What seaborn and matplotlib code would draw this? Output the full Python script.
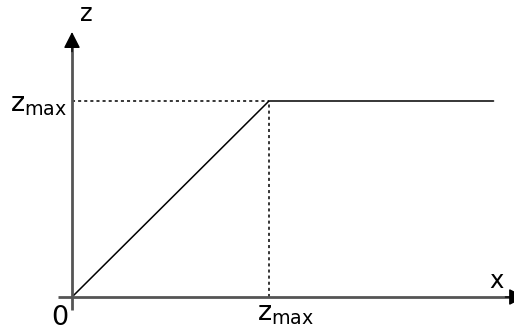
import matplotlib
matplotlib.use("Agg")
import matplotlib.pyplot as plt
import seaborn as sns
import pandas as pd

# data (units of z_max)
zmax = 1.0
x_pts = [0.0, zmax, 2.14]
z_pts = [0.0, zmax, zmax]
x_label = "x"
z_label = "z"
zmax_label = "$z_{max}$"
origin_label = "0"

sns.set_theme(style="white")
plt.rcParams['font.family'] = ['DejaVu Sans']
plt.rcParams['mathtext.default'] = 'regular'
plt.rcParams['text.color'] = 'black'

W, H = 514, 334
fig = plt.figure(figsize=(W / 100, H / 100), dpi=100)
ax = fig.add_axes([0, 0, 1, 1])
ux = 197.0   # px per unit (x)
uy = 196.0   # px per unit (y)
ox, oy = 72, 297  # origin in px
ax.set_xlim(-ox / ux, (W - ox) / ux)
ax.set_ylim(-(H - oy) / uy, oy / uy)
ax.axis("off")

df = pd.DataFrame({"x": x_pts, "z": z_pts})
sns.lineplot(data=df, x="x", y="z", ax=ax, color="black", lw=1.1, sort=False)

# dotted guides
ax.plot([0, zmax], [zmax, zmax], color="black", lw=1.1, ls=(0, (2, 2)))
ax.plot([zmax, zmax], [0, zmax], color="black", lw=1.1, ls=(0, (2, 2)))

axis_col = "#555555"
ytop = 1.352
xend = 2.30
ax.plot([0, 0], [-0.066, ytop - 0.05], color=axis_col, lw=2, solid_capstyle="butt")
ax.plot([-0.071, xend - 0.05], [0, 0], color=axis_col, lw=2, solid_capstyle="butt")
ap = dict(arrowstyle="-|>,head_length=0.55,head_width=0.28", color="black", lw=1,
          mutation_scale=18, shrinkA=0, shrinkB=0)
ax.annotate("", xy=(0, ytop), xytext=(0, ytop - 0.1), arrowprops=ap,
            annotation_clip=False)
ax.annotate("", xy=(xend, 0), xytext=(xend - 0.1, 0), arrowprops=ap,
            annotation_clip=False)

ax.text(0.071, 1.444, z_label, fontsize=17.5, ha="center", va="center", color="black")
ax.text(2.157, 0.082, x_label, fontsize=17.5, ha="center", va="center", color="black")
ax.text(-0.02, -0.04, origin_label, fontsize=19.5, ha="right", va="top", color="black")
ax.text(-0.025, zmax - 0.02, zmax_label, fontsize=19.5, ha="right", va="center", color="black")
ax.text(zmax - 0.06, -0.02, zmax_label, fontsize=19.5, ha="left", va="top", color="black")

fig.savefig("out.png", dpi=100)
